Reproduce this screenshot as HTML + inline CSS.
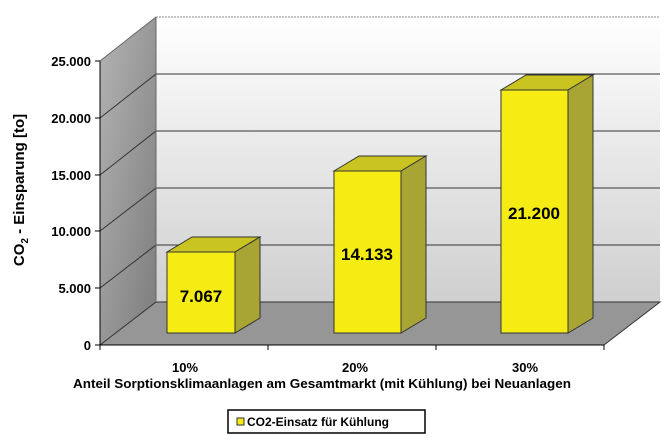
<!DOCTYPE html>
<html><head><meta charset="utf-8"><style>body{margin:0;background:#fff}svg{display:block}</style></head><body>
<svg width="670" height="446" xmlns="http://www.w3.org/2000/svg" font-family="Liberation Sans, Arial, sans-serif">
<defs>
<linearGradient id="bw" x1="0" y1="0" x2="0" y2="1"><stop offset="0" stop-color="#ffffff"/><stop offset="1" stop-color="#cfcfcf"/></linearGradient>
<linearGradient id="lw" x1="0" y1="0" x2="1" y2="1"><stop offset="0" stop-color="#b4b4b4"/><stop offset="1" stop-color="#7c7c7c"/></linearGradient>
</defs>
<rect x="156" y="17" width="504" height="285" fill="url(#bw)"/>
<line x1="156" y1="17" x2="660" y2="17" stroke="#888" stroke-dasharray="2,1"/>
<polygon points="100,61 156,17 156,302 100,345" fill="url(#lw)"/>
<polygon points="100,345 156,302 660,302 604,345" fill="#969696"/>
<g stroke="#333" stroke-width="1" fill="none">
<polyline points="100,118 156,74 660,74"/>
<polyline points="100,175 156,131 660,131"/>
<polyline points="100,231 156,188 660,188"/>
<polyline points="100,288 156,245 660,245"/>
<polyline points="100,345 156,302 660,302 604,345"/>
<line x1="100" y1="61" x2="156" y2="17" stroke="#666"/>
<line x1="156" y1="17" x2="156" y2="302" stroke="#666"/>
<line x1="100" y1="61" x2="100" y2="345" stroke="#000"/>
<line x1="100" y1="345" x2="604" y2="345" stroke="#000"/>
<line x1="95" y1="61" x2="100" y2="61" stroke="#000"/>
<line x1="95" y1="118" x2="100" y2="118" stroke="#000"/>
<line x1="95" y1="175" x2="100" y2="175" stroke="#000"/>
<line x1="95" y1="231" x2="100" y2="231" stroke="#000"/>
<line x1="95" y1="288" x2="100" y2="288" stroke="#000"/>
<line x1="95" y1="345" x2="100" y2="345" stroke="#000"/>
<line x1="100" y1="345" x2="100" y2="350" stroke="#000"/>
<line x1="268" y1="345" x2="268" y2="350" stroke="#000"/>
<line x1="436" y1="345" x2="436" y2="350" stroke="#000"/>
<line x1="604" y1="345" x2="604" y2="350" stroke="#000"/>
</g>
<g stroke="#333" stroke-width="1">
<polygon points="167,252 192,237 260,237 235,252" fill="#c9c420"/>
<polygon points="235,252 260,237 260,318 235,333" fill="#a9a534"/>
<rect x="167" y="252" width="68" height="81" fill="#f5ec13"/>
<polygon points="334,171 359,156 426,156 401,171" fill="#c9c420"/>
<polygon points="401,171 426,156 426,318 401,333" fill="#a9a534"/>
<rect x="334" y="171" width="67" height="162" fill="#f5ec13"/>
<polygon points="501,90 526,75 593,75 568,90" fill="#c9c420"/>
<polygon points="568,90 593,75 593,318 568,333" fill="#a9a534"/>
<rect x="501" y="90" width="67" height="243" fill="#f5ec13"/>
</g>
<g font-weight="bold" font-size="17" text-anchor="middle" fill="#000">
<text x="201" y="302">7.067</text>
<text x="367" y="260">14.133</text>
<text x="534" y="219">21.200</text>
</g>
<g font-weight="bold" font-size="13" text-anchor="end" fill="#000">
<text x="91" y="66">25.000</text>
<text x="91" y="123">20.000</text>
<text x="91" y="180">15.000</text>
<text x="91" y="236">10.000</text>
<text x="91" y="293">5.000</text>
<text x="91" y="350">0</text>
</g>
<g font-weight="bold" font-size="13" text-anchor="middle" fill="#000">
<text x="185" y="372">10%</text>
<text x="355" y="372">20%</text>
<text x="525" y="372">30%</text>
<text x="322" y="388" textLength="498" lengthAdjust="spacingAndGlyphs">Anteil Sorptionsklimaanlagen am Gesamtmarkt (mit Kühlung) bei Neuanlagen</text>
</g>
<text transform="translate(24,190) rotate(-90)" font-weight="bold" font-size="15" text-anchor="middle">CO<tspan font-size="10" dy="4">2</tspan><tspan dy="-4"> - Einsparung [to]</tspan></text>
<rect x="228" y="410" width="197" height="23" fill="#fff" stroke="#000" stroke-width="1.5"/>
<rect x="237" y="418" width="7" height="7" fill="#f5ec13" stroke="#333"/>
<text x="247" y="426" font-weight="bold" font-size="12">CO2-Einsatz für Kühlung</text>
</svg>
</body></html>
